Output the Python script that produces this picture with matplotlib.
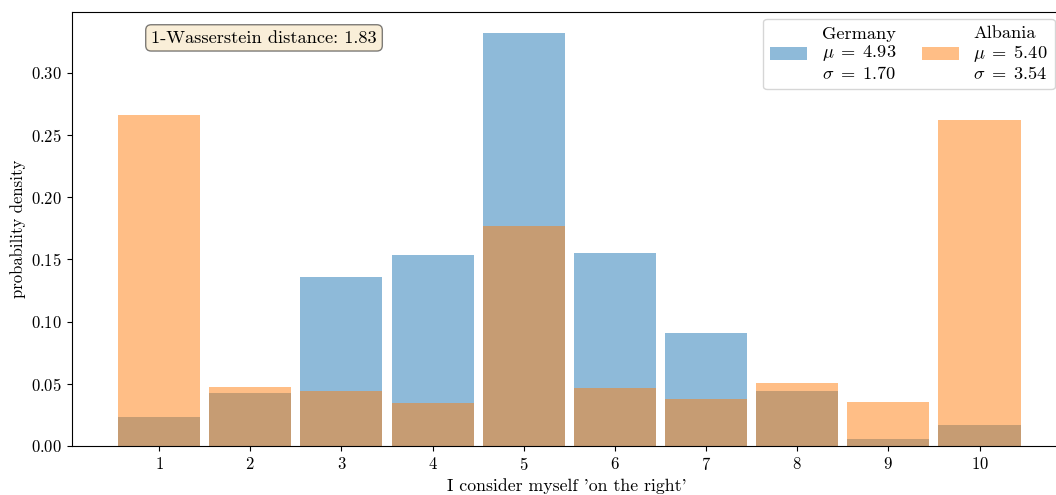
import numpy as np
import matplotlib.pyplot as plt
from matplotlib.patches import Patch

plt.rcParams['font.family'] = 'serif'
plt.rcParams['font.serif'] = ['cmr10']
plt.rcParams['mathtext.fontset'] = 'cm'
plt.rcParams['axes.formatter.use_mathtext'] = True
plt.rcParams['font.size'] = 12

# answers on the 1-10 scale, normalised per country
escala = np.arange(1, 11)
alemanha = [0.0233, 0.0426, 0.136, 0.1536, 0.332, 0.155, 0.0909, 0.0442, 0.0056, 0.0171]
albania = [0.266, 0.0474, 0.0442, 0.0346, 0.177, 0.0469, 0.0378, 0.0507, 0.0354, 0.262]
rotulos = ['Germany\n$\\mu\\;=\\;4.93$\n$\\sigma\\;=\\;1.70$',
           'Albania\n$\\mu\\;=\\;5.40$\n$\\sigma\\;=\\;3.54$']
wasserstein = 1.83

fig = plt.figure(figsize=(10.56, 4.95), dpi=100)
ax = fig.add_axes([72/1056, 49/495, 990/1056, 434/495])

ax.bar(escala, alemanha, width=0.9, color='C0', alpha=0.5)
ax.bar(escala, albania, width=0.9, color='C1', alpha=0.5)

ax.set_xticks(escala)
ax.set_xlim(0.045, 10.905)
ax.set_ylim(0, 0.3486)
ax.spines['right'].set_visible(False)
ax.set_xlabel("I consider myself 'on the right'", labelpad=4, fontsize=12.8)
ax.set_ylabel('probability density')

ax.text(0.08, 0.958, f'1-Wasserstein distance: {wasserstein:.2f}',
        transform=ax.transAxes, va='top', ha='left', fontsize=13.2,
        bbox=dict(boxstyle='round', facecolor='wheat', alpha=0.5))

alcas = [Patch(facecolor='C0', edgecolor='none', alpha=0.5),
         Patch(facecolor='C1', edgecolor='none', alpha=0.5)]
leg = ax.legend(alcas, rotulos, ncol=2, loc='upper right',
                bbox_to_anchor=(983/990, 0.985),
                borderaxespad=0, fontsize=13.2, columnspacing=1.4)
for t in leg.get_texts():
    t.set_linespacing(1.1)

fig.savefig('out.png', dpi=100)
